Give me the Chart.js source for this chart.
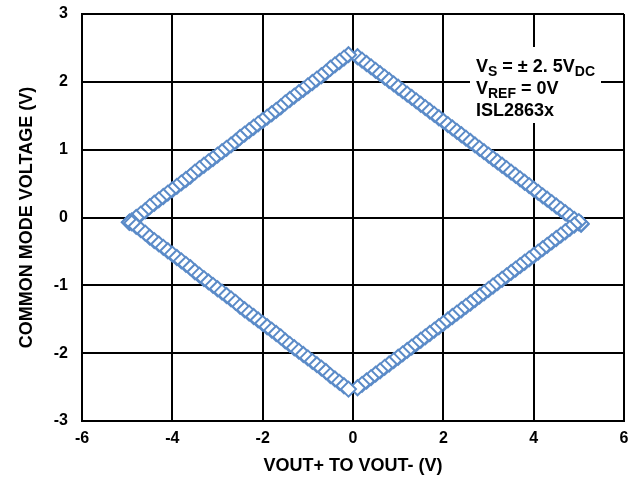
<!DOCTYPE html>
<html lang="en">
<head>
    <meta charset="UTF-8">
    <title>Common Mode Voltage vs Differential Output</title>
    <script src="https://cdn.jsdelivr.net/npm/chart.js"></script>
    <style>
        html, body { margin: 0; padding: 0; background: #fff; }
        #wrap { width: 639px; height: 478px; }
    </style>
</head>
<body>
    <div id="wrap"><canvas id="cmChart" width="639" height="478"></canvas></div>

    <script>
        // Differential output (VOUT+ - VOUT-) and common mode voltage
        const leftX = [-0.1, -0.2, -0.3, -0.4, -0.5, -0.6, -0.7, -0.8, -0.9, -1.0,
            -1.1, -1.2, -1.3, -1.4, -1.5, -1.6, -1.7, -1.8, -1.9, -2.0,
            -2.1, -2.2, -2.3, -2.4, -2.5, -2.6, -2.7, -2.8, -2.9, -3.0,
            -3.1, -3.2, -3.3, -3.4, -3.5, -3.6, -3.7, -3.8, -3.9, -4.0,
            -4.1, -4.2, -4.3, -4.4, -4.5, -4.6, -4.7, -4.8, -4.9, -4.95];
        const leftTopY = [2.40, 2.35, 2.30, 2.25, 2.20, 2.14, 2.09, 2.04, 1.99, 1.94,
            1.89, 1.84, 1.79, 1.74, 1.69, 1.63, 1.58, 1.53, 1.48, 1.43,
            1.38, 1.33, 1.28, 1.23, 1.18, 1.12, 1.07, 1.02, 0.97, 0.92,
            0.87, 0.82, 0.77, 0.72, 0.67, 0.61, 0.56, 0.51, 0.46, 0.41,
            0.36, 0.31, 0.26, 0.21, 0.16, 0.10, 0.05, 0.00, -0.05, -0.07];
        const leftBottomY = [-2.53, -2.48, -2.43, -2.38, -2.33, -2.27, -2.22, -2.17, -2.12, -2.07,
            -2.02, -1.97, -1.92, -1.87, -1.82, -1.76, -1.71, -1.66, -1.61, -1.56,
            -1.51, -1.46, -1.41, -1.36, -1.31, -1.25, -1.20, -1.15, -1.10, -1.05,
            -1.00, -0.95, -0.90, -0.85, -0.80, -0.74, -0.69, -0.64, -0.59, -0.54,
            -0.49, -0.44, -0.39, -0.34, -0.29, -0.23, -0.18, -0.13, -0.08, -0.07];

        const rightX = [0.1, 0.2, 0.3, 0.4, 0.5, 0.6, 0.7, 0.8, 0.9, 1.0,
            1.1, 1.2, 1.3, 1.4, 1.5, 1.6, 1.7, 1.8, 1.9, 2.0,
            2.1, 2.2, 2.3, 2.4, 2.5, 2.6, 2.7, 2.8, 2.9, 3.0,
            3.1, 3.2, 3.3, 3.4, 3.5, 3.6, 3.7, 3.8, 3.9, 4.0,
            4.1, 4.2, 4.3, 4.4, 4.5, 4.6, 4.7, 4.8, 4.9, 5.0, 5.05];
        const rightTopY = [2.37, 2.32, 2.27, 2.22, 2.17, 2.12, 2.07, 2.02, 1.97, 1.92,
            1.87, 1.82, 1.77, 1.72, 1.67, 1.62, 1.57, 1.52, 1.47, 1.42,
            1.37, 1.32, 1.27, 1.22, 1.17, 1.12, 1.07, 1.02, 0.97, 0.92,
            0.87, 0.82, 0.77, 0.72, 0.67, 0.62, 0.57, 0.52, 0.47, 0.42,
            0.37, 0.32, 0.27, 0.22, 0.17, 0.12, 0.07, 0.02, -0.03, -0.08, -0.10];
        const rightBottomY = [-2.51, -2.46, -2.41, -2.36, -2.31, -2.26, -2.21, -2.16, -2.11, -2.06,
            -2.01, -1.96, -1.91, -1.86, -1.81, -1.76, -1.71, -1.66, -1.61, -1.56,
            -1.51, -1.46, -1.41, -1.36, -1.31, -1.26, -1.21, -1.16, -1.11, -1.06,
            -1.01, -0.96, -0.91, -0.86, -0.81, -0.76, -0.71, -0.66, -0.61, -0.56,
            -0.51, -0.46, -0.41, -0.36, -0.31, -0.26, -0.21, -0.16, -0.11, -0.06, -0.09];

        const xTicks = [-6, -4, -2, 0, 2, 4, 6];
        const yTicks = [-3, -2, -1, 0, 1, 2, 3];

        const markerColor = '#5b8bc8';
        const fontFamily = '"Liberation Sans", Arial, sans-serif';

        // each half: walk down the top edge, then back along the bottom edge
        function halfLoop(xs, topY, bottomY) {
            const pts = xs.map((x, i) => ({ x: x, y: topY[i] }));
            for (let i = xs.length - 1; i >= 0; i--) pts.push({ x: xs[i], y: bottomY[i] });
            return pts;
        }

        // condition box, top right
        const noteBox = {
            id: 'noteBox',
            beforeDatasetsDraw(chart) {
                const ctx = chart.ctx;
                ctx.save();
                ctx.fillStyle = '#fff';
                ctx.fillRect(470, 47, 131, 76);
                ctx.fillStyle = '#000';
                ctx.textBaseline = 'alphabetic';
                const big = 'bold 18px ' + fontFamily;
                const small = 'bold 14px ' + fontFamily;
                const lines = [
                    [['V', 0], ['S', 1], [' = \u00b1 2. 5V', 0], ['DC', 1]],
                    [['V', 0], ['REF', 1], [' = 0V', 0]],
                    [['ISL2863x', 0]]
                ];
                const baselines = [72, 94, 116];
                lines.forEach((parts, li) => {
                    let x = 476;
                    parts.forEach(([t, sub]) => {
                        ctx.font = sub ? small : big;
                        ctx.fillText(t, x, baselines[li] + (sub ? 4 : 0));
                        x += ctx.measureText(t).width;
                    });
                });
                ctx.restore();
            }
        };

        const ctx = document.getElementById('cmChart').getContext('2d');
        new Chart(ctx, {
            type: 'scatter',
            data: {
                datasets: [{
                    data: halfLoop(leftX, leftTopY, leftBottomY),
                    pointStyle: 'rectRot',
                    pointRadius: 7.5,
                    borderWidth: 2,
                    borderColor: markerColor,
                    backgroundColor: '#fff',
                    showLine: false
                }, {
                    data: halfLoop(rightX, rightTopY, rightBottomY),
                    pointStyle: 'rectRot',
                    pointRadius: 7.5,
                    borderWidth: 2,
                    borderColor: markerColor,
                    backgroundColor: '#fff',
                    showLine: false
                }]
            },
            options: {
                responsive: false,
                animation: false,
                layout: { padding: { top: 0, right: 15, left: 0, bottom: 0 } },
                plugins: {
                    legend: { display: false },
                    tooltip: { enabled: false }
                },
                scales: {
                    x: {
                        type: 'linear',
                        min: -6,
                        max: 6,
                        afterBuildTicks: s => { s.ticks = xTicks.map(v => ({ value: v })); },
                        afterFit: s => { s.height = 57; },
                        grid: { color: '#000', lineWidth: 2, drawTicks: false },
                        border: { color: '#000', width: 2 },
                        ticks: {
                            color: '#000',
                            padding: 8,
                            font: { family: fontFamily, size: 16, weight: 'bold' }
                        },
                        title: {
                            display: true,
                            text: 'VOUT+ TO VOUT- (V)',
                            color: '#000',
                            padding: { top: 0, bottom: 1 },
                            font: { family: fontFamily, size: 18, weight: 'bold' }
                        }
                    },
                    y: {
                        type: 'linear',
                        min: -3,
                        max: 3,
                        afterBuildTicks: s => { s.ticks = yTicks.map(v => ({ value: v })); },
                        // tick padding would also pad the top; keep the plot top at 14px
                        afterFit: s => { s.width = 82; s.paddingTop = 14; s.paddingBottom = 0; },
                        grid: { color: '#000', lineWidth: 2, drawTicks: false },
                        border: { color: '#000', width: 2 },
                        ticks: {
                            color: '#000',
                            padding: 14,
                            font: { family: fontFamily, size: 16, weight: 'bold' }
                        },
                        title: {
                            display: true,
                            text: 'COMMON MODE VOLTAGE (V)',
                            color: '#000',
                            padding: { top: 16, bottom: 0 },
                            font: { family: fontFamily, size: 18, weight: 'bold' }
                        }
                    }
                }
            },
            plugins: [noteBox]
        });
    </script>
</body>
</html>
